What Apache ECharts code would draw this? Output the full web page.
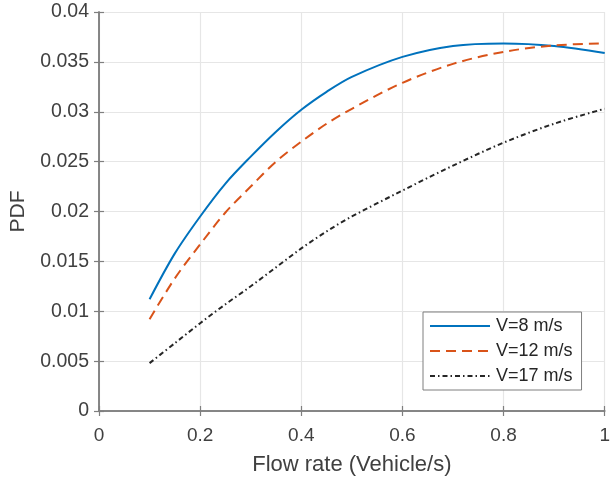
<!DOCTYPE html>
<html>
<head>
<meta charset="utf-8">
<script src="https://cdn.jsdelivr.net/npm/echarts@6/dist/echarts.min.js"></script>
<style>html,body{margin:0;padding:0;background:#fff}#c{width:613px;height:481px}</style>
</head>
<body>
<div id="c"></div>
<script>
const xValues = [0.1, 0.15, 0.2, 0.25, 0.3, 0.35, 0.4, 0.45, 0.5, 0.6, 0.7, 0.8, 0.9, 1.0];
const v8 =  [0.0112, 0.0158, 0.0195, 0.0228, 0.0255, 0.0280, 0.0302, 0.0320, 0.0335, 0.0355, 0.0366, 0.03685, 0.0366, 0.0359];
const v12 = [0.0092, 0.0133, 0.0167, 0.0199, 0.0225, 0.0250, 0.0270, 0.0288, 0.0303, 0.0329, 0.0348, 0.0360, 0.03665, 0.03685];
const v17 = [0.0048, 0.0068, 0.0088, 0.0107, 0.0125, 0.0144, 0.0163, 0.0180, 0.0195, 0.0221, 0.0246, 0.0269, 0.0288, 0.0303];
const seriesNames = ['V=8 m/s', 'V=12 m/s', 'V=17 m/s'];
const xTicks = [0, 0.2, 0.4, 0.6, 0.8, 1];
const yTicks = [0, 0.005, 0.01, 0.015, 0.02, 0.025, 0.03, 0.035, 0.04];

const font = 'Liberation Sans, Arial, Helvetica, sans-serif';
const txt = '#404040';
const axisCol = '#7f7f7f';
const fmtX = v => String(+v.toFixed(1));
const fmtY = v => String(+v.toFixed(3));

const chart = echarts.init(document.getElementById('c'), null, {renderer: 'canvas'});
const pair = arr => xValues.map((x, i) => [x, arr[i]]);
const base = {
  min: 0, type: 'value',
  axisLine: {show: true, lineStyle: {color: axisCol, width: 1.5}},
  axisTick: {show: true, inside: true, length: 5, lineStyle: {color: axisCol, width: 1.2}},
  splitLine: {show: false}
};
chart.setOption({
  animation: false,
  backgroundColor: '#fff',
  grid: {left: 98, top: 12, right: 3, bottom: 70, containLabel: false},
  xAxis: [
    Object.assign({}, base, {
      position: 'bottom', max: 1, interval: 0.2,
      axisLabel: {color: txt, fontSize: 19, fontFamily: font, margin: 15, formatter: fmtX},
      splitLine: {show: true, lineStyle: {color: '#e6e6e6', width: 1.2}},
      name: 'Flow rate (Vehicle/s)', nameLocation: 'middle', nameGap: 43,
      nameTextStyle: {color: txt, fontSize: 22, fontFamily: font}
    }),
    Object.assign({}, base, {position: 'top', max: 1, interval: 0.2, axisLabel: {show: false}})
  ],
  yAxis: [
    Object.assign({}, base, {
      position: 'left', max: 0.04, interval: 0.005,
      axisLabel: {color: txt, fontSize: 19.5, fontFamily: font, margin: 10, formatter: fmtY},
      splitLine: {show: true, lineStyle: {color: '#e6e6e6', width: 1.2}},
      name: 'PDF', nameLocation: 'middle', nameGap: 70,
      nameTextStyle: {color: txt, fontSize: 21, fontFamily: font}
    }),
    Object.assign({}, base, {position: 'right', max: 0.04, interval: 0.005, axisLabel: {show: false}})
  ],
  legend: {
    orient: 'vertical', left: 423, top: 312,
    padding: [5, 9, 5, 6], itemGap: 7,
    itemWidth: 60, itemHeight: 14,
    itemStyle: {opacity: 0},
    backgroundColor: '#fff', borderColor: '#7f7f7f', borderWidth: 1, borderRadius: 0,
    textStyle: {color: '#262626', fontSize: 18, fontFamily: font, padding: [0, 0, 0, 1]},
    data: seriesNames
  },
  series: [
    {name: seriesNames[0], type: 'line', data: pair(v8), smooth: 0.33, showSymbol: false, symbol: 'none',
     lineStyle: {color: '#0072BD', width: 2}, itemStyle: {color: '#0072BD'}},
    {name: seriesNames[1], type: 'line', data: pair(v12), smooth: 0.33, showSymbol: false, symbol: 'none',
     lineStyle: {color: '#D95319', width: 2, type: [10, 6]}, itemStyle: {color: '#D95319'}},
    {name: seriesNames[2], type: 'line', data: pair(v17), smooth: 0.33, showSymbol: false, symbol: 'none',
     lineStyle: {color: '#262626', width: 2, type: [5, 3, 1.5, 3]}, itemStyle: {color: '#262626'}}
  ]
});
</script>
</body>
</html>
